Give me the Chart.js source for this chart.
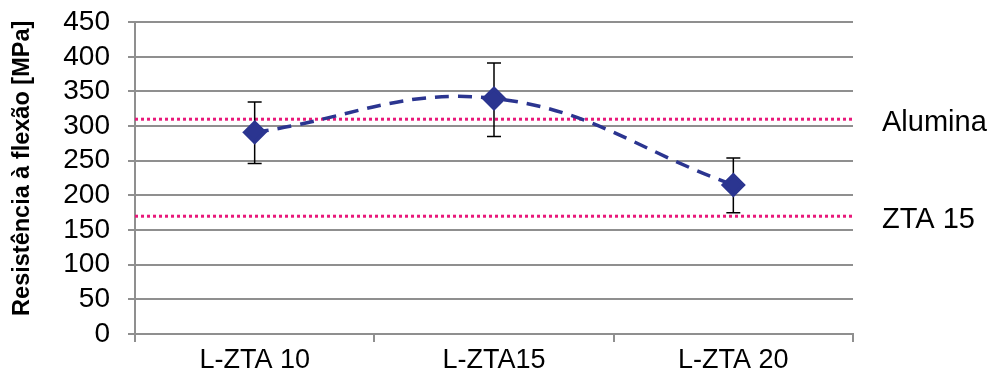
<!DOCTYPE html>
<html>
<head>
<meta charset="utf-8">
<script src="https://cdn.jsdelivr.net/npm/chart.js@4"></script>
<style>
  html, body { margin: 0; padding: 0; background: #fff; }
  #wrap { width: 995px; height: 379px; }
</style>
</head>
<body>
<div id="wrap"><canvas id="grafico" width="995" height="379"></canvas></div>
<script>
// dados
var amostras = ['L-ZTA 10', 'L-ZTA15', 'L-ZTA 20'];
var resistencia = [291, 340, 215];
var erroBaixo = [45, 55, 40];
var erroAlto = [44, 51, 39];
var refNomes = ['Alumina', 'ZTA 15'];
var refValores = [310, 170];
var yMin = 0, yMax = 450, yPasso = 50;

var azul = '#2B3590';
var rosa = '#E8197A';
var cinza = '#8f8f8f';
var fonte = '"Liberation Sans", Arial, sans-serif';

// barras de erro e linhas de referencia
var extras = {
    id: 'extras',
    beforeDatasetsDraw: function(chart) {
        var ctx = chart.ctx;
        var x = chart.scales.x, y = chart.scales.y;
        var area = chart.chartArea;
        ctx.save();
        // linhas de referencia (pontilhado)
        ctx.strokeStyle = rosa;
        ctx.lineWidth = 3;
        ctx.setLineDash([3, 3]);
        ctx.font = '29px ' + fonte;
        ctx.fillStyle = '#000';
        ctx.textBaseline = 'middle';
        for (var r = 0; r < refValores.length; r++) {
            var py = y.getPixelForValue(refValores[r]);
            ctx.beginPath();
            ctx.moveTo(area.left, py);
            ctx.lineTo(area.right, py);
            ctx.stroke();
            ctx.fillText(refNomes[r], area.right + 29, py + 4);
        }
        ctx.setLineDash([]);
        // barras de erro
        ctx.strokeStyle = '#000';
        ctx.lineWidth = 1.5;
        for (var i = 0; i < resistencia.length; i++) {
            var px = x.getPixelForValue(i);
            var top = y.getPixelForValue(resistencia[i] + erroAlto[i]);
            var bot = y.getPixelForValue(resistencia[i] - erroBaixo[i]);
            ctx.beginPath();
            ctx.moveTo(px, top); ctx.lineTo(px, bot);
            ctx.moveTo(px - 7, top); ctx.lineTo(px + 7, top);
            ctx.moveTo(px - 7, bot); ctx.lineTo(px + 7, bot);
            ctx.stroke();
        }
        ctx.restore();
    }
};

var ctx = document.getElementById('grafico').getContext('2d');
var grafico = new Chart(ctx, {
    type: 'line',
    data: {
        labels: amostras,
        datasets: [{
            data: resistencia,
            borderColor: azul,
            backgroundColor: azul,
            borderWidth: 3.5,
            borderDash: [14, 9],
            tension: 0.4,
            pointStyle: 'rectRot',
            pointRadius: 10,
            pointBackgroundColor: azul,
            pointBorderColor: azul,
            fill: false
        }]
    },
    options: {
        responsive: false,
        animation: false,
        layout: { padding: { left: 0, right: 142, top: 0, bottom: 0 } },
        plugins: {
            legend: { display: false },
            tooltip: { enabled: false }
        },
        scales: {
            x: {
                offset: true,
                grid: { offset: true, drawOnChartArea: false, color: cinza, lineWidth: 2, tickLength: 8 },
                border: { color: cinza, width: 2 },
                ticks: { color: '#000', padding: 2, font: { family: fonte, size: 27 } },
                afterFit: function(s) { s.height = 45; }
            },
            y: {
                min: yMin,
                max: yMax,
                ticks: { stepSize: yPasso, autoSkip: false, color: '#000', padding: 18, font: { family: fonte, size: 28, lineHeight: 0.3 } },
                grid: { color: cinza, lineWidth: 2, tickLength: 7 },
                border: { color: cinza, width: 2 },
                title: {
                    display: true,
                    // espacos iniciais sobem o titulo um pouco
                    text: '   Resistência à flexão [MPa]',
                    color: '#000',
                    padding: { top: 8, bottom: 0 },
                    font: { family: fonte, size: 23.5, weight: 'bold' }
                },
                afterFit: function(s) { s.width = 135; }
            }
        }
    },
    plugins: [extras]
});
</script>
</body>
</html>
